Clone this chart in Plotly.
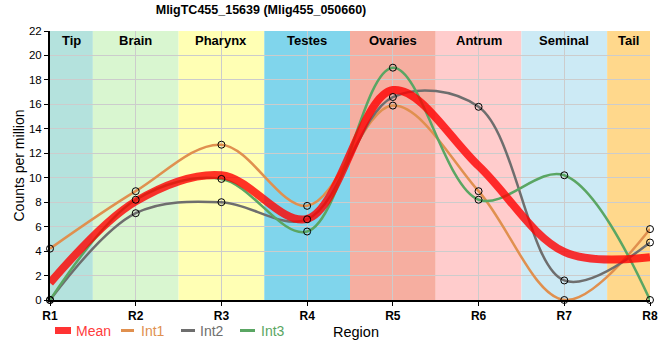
import plotly.graph_objects as go

regions = ["R1", "R2", "R3", "R4", "R5", "R6", "R7", "R8"]
int1 = [4.2, 8.9, 12.7, 7.7, 15.9, 8.9, 0.0, 5.8]
int2 = [0.0, 7.1, 8.0, 6.6, 16.6, 15.8, 1.6, 4.7]
int3 = [0.0, 8.2, 9.9, 5.6, 19.0, 8.2, 10.2, 0.0]
mean = [round((a + b + c) / 3, 3) for a, b, c in zip(int1, int2, int3)]

band_names = ["Tip", "Brain", "Pharynx", "Testes", "Ovaries", "Antrum", "Seminal", "Tail"]
band_colors = ["#b4e2dd", "#d9f6d0", "#ffffb4", "#80d5ec", "#f6aea0", "#ffcccc", "#cceaf5", "#ffd88c"]

FONT = "Liberation Sans, Arial, sans-serif"
MEAN_COL = "rgba(255,0,0,0.8)"
x = list(range(len(regions)))

W, H = 660, 360
# plot area in pixels: x 50..650, y 31..300
L, R, T, B = 50, 10, 31, 60
PW, PH = W - L - R, H - T - B


def px(xs):
    return (xs - L) / PW


def py(ys):
    return (H - B - ys) / PH


fig = go.Figure()

series = [("Int1", int1, "#e0904f"), ("Int2", int2, "#6e6e6e"), ("Int3", int3, "#5aa663")]
for name, vals, col in series:
    fig.add_trace(go.Scatter(
        x=x, y=vals, mode="lines", name=name, showlegend=False,
        line=dict(color=col, width=2.5, shape="spline", smoothing=1),
    ))

fig.add_trace(go.Scatter(
    x=x, y=mean, mode="lines", name="Mean", showlegend=False,
    line=dict(color=MEAN_COL, width=8, shape="spline", smoothing=1),
))

for name, vals, col in series:
    fig.add_trace(go.Scatter(
        x=x, y=vals, mode="markers", showlegend=False, cliponaxis=False,
        marker=dict(symbol="circle-open", size=7, color="black", line=dict(width=1)),
    ))

shapes = []
annotations = []
n = len(regions)
for i, (bn, bc) in enumerate(zip(band_names, band_colors)):
    x0 = max(i - 0.5, 0)
    x1 = min(i + 0.5, n - 1)
    shapes.append(dict(type="rect", xref="x", yref="paper", x0=x0, x1=x1, y0=0, y1=1,
                       fillcolor=bc, line=dict(width=0), layer="below"))
    annotations.append(dict(x=(x0 + x1) / 2, y=py(40), xref="x", yref="paper", yanchor="middle",
                            text=f"<b>{bn}</b>", showarrow=False,
                            font=dict(family=FONT, size=13, color="black")))

# manual legend (layout only), pixel placement
leg_y = 330.5
legend_items = [
    ("Mean", "#ff3b3b", MEAN_COL, 55, 71, 74, 7),
    ("Int1", "#e0904f", "#e0904f", 121, 134, 139, 3),
    ("Int2", "#6e6e6e", "#6e6e6e", 181, 195, 198, 3),
    ("Int3", "#5aa663", "#5aa663", 240, 255, 259, 3),
]
for label, tcol, scol, sx0, sx1, tx, thick in legend_items:
    shapes.append(dict(type="rect", xref="paper", yref="paper",
                       x0=px(sx0), x1=px(sx1), y0=py(leg_y + thick / 2), y1=py(leg_y - thick / 2),
                       fillcolor=scol, line=dict(width=0), layer="above"))
    annotations.append(dict(x=px(tx), y=py(leg_y), xref="paper", yref="paper",
                            xanchor="left", yanchor="middle", text=label, showarrow=False,
                            font=dict(family=FONT, size=14, color=tcol)))
annotations.append(dict(x=px(356), y=py(leg_y + 1), xref="paper", yref="paper",
                        xanchor="center", yanchor="middle", text="Region", showarrow=False,
                        font=dict(family=FONT, size=14.5, color="black")))

fig.update_layout(
    width=W, height=H,
    margin=dict(l=L, r=R, t=T, b=B, autoexpand=False),
    paper_bgcolor="white", plot_bgcolor="white",
    font=dict(family=FONT, size=13, color="black"),
    title=dict(text="<b>MligTC455_15639 (Mlig455_050660)</b>", xref="container",
               x=261 / W, xanchor="center", y=1 - 10 / H, yanchor="middle",
               font=dict(family=FONT, size=12.5, color="black")),
    shapes=shapes, annotations=annotations,
    showlegend=False,
    xaxis=dict(range=[0, n - 1], tickvals=x, ticktext=[f"<b>{r}</b>" for r in regions],
               showgrid=True, gridcolor="#cccccc", gridwidth=1, automargin=False,
               showline=True, linecolor="black", linewidth=2, ticks="outside", ticklen=4,
               tickcolor="black", zeroline=False,
               tickfont=dict(family=FONT, size=12)),
    yaxis=dict(range=[0, 22], dtick=2, showgrid=True, gridcolor="#cccccc", gridwidth=1,
               automargin=False,
               showline=True, linecolor="black", linewidth=2, ticks="outside", ticklen=4,
               tickcolor="black", zeroline=False, tickfont=dict(family=FONT, size=11.5),
               title=dict(text="Counts per million", standoff=1, font=dict(family=FONT, size=14))),
)

fig.write_html("out.html", config={"displayModeBar": False},
               post_script="document.body.style.margin='0';document.body.style.overflow='hidden';")
